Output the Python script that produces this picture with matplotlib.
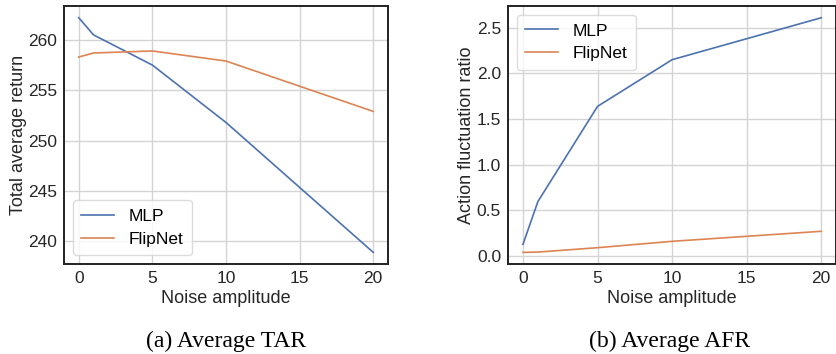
import matplotlib
matplotlib.use("Agg")
import matplotlib.pyplot as plt

# data
noise = [0, 1, 5, 10, 20]
tar_mlp = [262.2, 260.5, 257.5, 251.8, 238.9]
tar_flipnet = [258.3, 258.7, 258.9, 257.9, 252.9]
afr_mlp = [0.125, 0.594, 1.638, 2.15, 2.61]
afr_flipnet = [0.037, 0.04, 0.088, 0.158, 0.268]

BLUE = "#4c72b0"
ORANGE = "#dd8452"

plt.rcParams["font.family"] = ["Liberation Sans", "DejaVu Sans"]

fig = plt.figure(figsize=(8.37, 3.54), dpi=100)
ax1 = fig.add_axes([0.0765, 0.254, 0.387, 0.729])
ax2 = fig.add_axes([0.607, 0.254, 0.392, 0.729])


def style(ax):
    ax.set_facecolor("white")
    ax.grid(True, color="#d4d4d4", linewidth=1.0)
    ax.set_axisbelow(True)
    for s in ax.spines.values():
        s.set_color("#222222")
        s.set_linewidth(1.4)
    ax.tick_params(length=0, pad=5, labelsize=12.5, colors="#262626")
    ax.set_xticks([0, 5, 10, 15, 20])
    ax.set_xlabel("Noise amplitude", fontsize=13, color="#262626", labelpad=3)


# (a) total average return
ax1.plot(noise, tar_mlp, color=BLUE, linewidth=1.2, label="MLP")
ax1.plot(noise, tar_flipnet, color=ORANGE, linewidth=1.2, label="FlipNet")
style(ax1)
ax1.set_yticks([240, 245, 250, 255, 260])
ax1.set_ylabel("Total average return", fontsize=13, color="#262626", labelpad=1)
ax1.legend(loc="lower left", fontsize=12.5, frameon=True, edgecolor="#d4d4d4",
           handlelength=1.9, handletextpad=0.8, borderpad=0.5, labelspacing=0.45)

# (b) action fluctuation ratio
ax2.plot(noise, afr_mlp, color=BLUE, linewidth=1.2, label="MLP")
ax2.plot(noise, afr_flipnet, color=ORANGE, linewidth=1.2, label="FlipNet")
style(ax2)
ax2.set_yticks([0.0, 0.5, 1.0, 1.5, 2.0, 2.5])
ax2.set_ylabel("Action fluctuation ratio", fontsize=13, color="#262626", labelpad=1)
ax2.legend(loc="upper left", fontsize=12.5, frameon=True, edgecolor="#d4d4d4",
           handlelength=1.9, handletextpad=0.8, borderpad=0.5, labelspacing=0.45)

fig.text(0.27, 0.02, "(a) Average TAR", ha="center", fontsize=17,
         family=["Liberation Serif", "DejaVu Serif"])
fig.text(0.80, 0.02, "(b) Average AFR", ha="center", fontsize=17,
         family=["Liberation Serif", "DejaVu Serif"])

fig.savefig("out.png", dpi=100)
